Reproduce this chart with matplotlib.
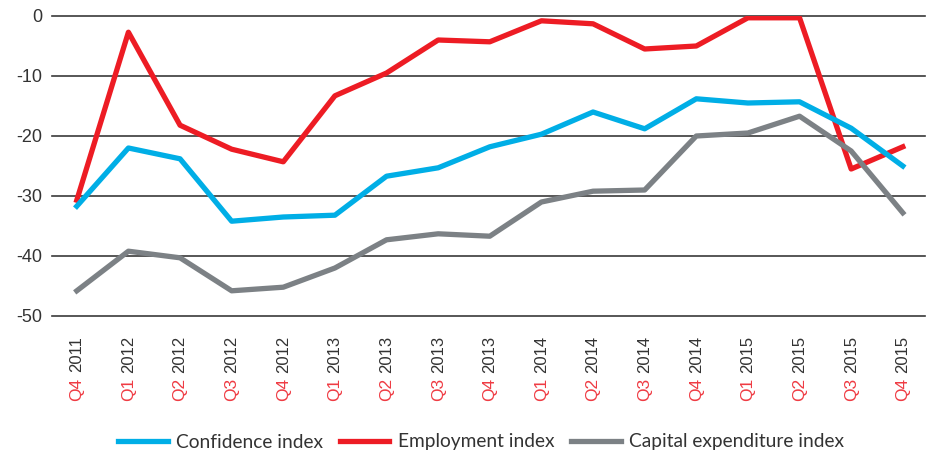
import matplotlib
matplotlib.use("Agg")
import matplotlib.pyplot as plt

quarters = ["Q4", "Q1", "Q2", "Q3", "Q4", "Q1", "Q2", "Q3", "Q4",
            "Q1", "Q2", "Q3", "Q4", "Q1", "Q2", "Q3", "Q4"]
years = ["2011", "2012", "2012", "2012", "2012", "2013", "2013", "2013", "2013",
         "2014", "2014", "2014", "2014", "2015", "2015", "2015", "2015"]

confidence = [-31.7, -22.0, -23.8, -34.2, -33.5, -33.2, -26.7, -25.3, -21.8,
              -19.7, -16.0, -18.8, -13.8, -14.5, -14.3, -18.7, -25.0]
employment = [-30.7, -2.7, -18.2, -22.2, -24.3, -13.3, -9.5, -4.0, -4.3,
              -0.8, -1.3, -5.5, -5.0, -0.3, -0.3, -25.5, -21.8]
capex = [-45.8, -39.2, -40.3, -45.8, -45.2, -42.0, -37.3, -36.3, -36.7,
         -31.0, -29.2, -29.0, -20.0, -19.5, -16.7, -22.5, -32.8]

yticks = [0, -10, -20, -30, -40, -50]

blue = "#00aee6"
red = "#ed1c24"
grey = "#7c8185"
tick_red = "#ef3b43"
text_col = "#333333"

fig = plt.figure(figsize=(9.33, 4.57), dpi=100)
ax = fig.add_axes([52 / 933, 1 - 316 / 457, (925 - 52) / 933, 300 / 457])

x = list(range(len(quarters)))

for y in yticks:
    ax.axhline(y, color="#3a3a3a", lw=1.2, zorder=1, clip_on=False)

ax.plot(x, employment, color=red, lw=3.8, label="Employment index", zorder=3)
ax.plot(x, confidence, color=blue, lw=3.8, label="Confidence index", zorder=4)
ax.plot(x, capex, color=grey, lw=3.8, label="Capital expenditure index", zorder=5)

ax.set_xlim(-0.48, 16.43)
ax.set_ylim(-50, 0)
ax.set_yticks(yticks)
ax.set_yticklabels([str(v) for v in yticks], family="Liberation Sans",
                   fontsize=13, color=text_col)
ax.tick_params(axis="y", length=0, pad=7)
ax.set_xticks([])
for s in ax.spines.values():
    s.set_visible(False)

# two-colour x labels: quarter in red, year in dark grey
for i in x:
    ax.annotate(years[i], xy=(i, 0), xycoords=("data", "axes fraction"),
                xytext=(0, -14.5), textcoords="offset points", rotation=90,
                ha="center", va="top", fontsize=12, color=text_col,
                family="Liberation Sans")
    ax.annotate(quarters[i], xy=(i, 0), xycoords=("data", "axes fraction"),
                xytext=(0, -44.5), textcoords="offset points", rotation=90,
                ha="center", va="top", fontsize=12.5, color=tick_red,
                family="Liberation Sans")

h, l = ax.get_legend_handles_labels()
order = [1, 0, 2]
leg = fig.legend([h[k] for k in order], [l[k] for k in order],
                 loc="center", bbox_to_anchor=(481 / 933, 1 - 442 / 457), ncol=3,
                 frameon=False, handlelength=2.6, handletextpad=0.45,
                 columnspacing=0.85,
                 prop={"family": "Lato", "size": 13.8})
for t in leg.get_texts():
    t.set_color(text_col)

fig.savefig("out.png", dpi=100)
